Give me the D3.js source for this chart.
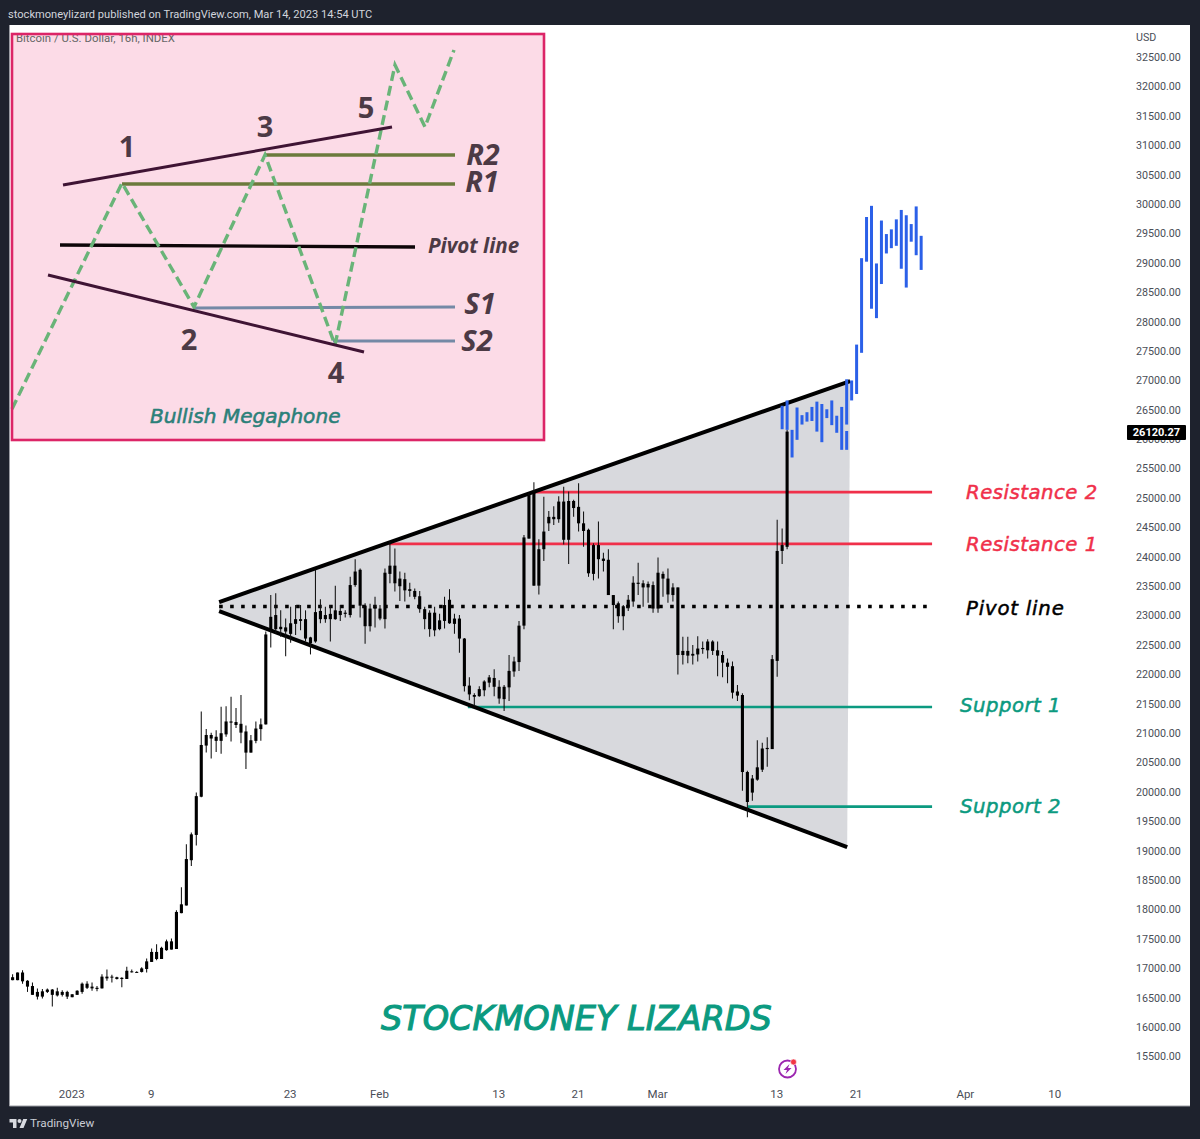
<!DOCTYPE html>
<html><head><meta charset="utf-8">
<script src="https://cdn.jsdelivr.net/npm/d3@7"></script>
<style>html,body{margin:0;padding:0;background:#1e222d}svg{display:block}</style>
</head><body><svg id="c" width="1200" height="1139"></svg>
<script>
// 16h BTCUSD candles, one entry per bar
const high=[16890,16920,16960,16790,16750,16650,16640,16650,16640,16660,16620,16610,16550,16620,16750,16770,16750,16690,16890,16970,16880,16850,16840,17020,16970,16940,17010,17160,17330,17400,17360,17480,17500,17980,18370,19100,19300,19980,21360,21060,21000,21040,21440,21450,21610,21420,21640,21120,20960,21190,21240,22720,23340,23370,23080,22940,23140,23170,23170,23080,22630,23770,23270,23140,23170,23500,23170,23080,23650,23950,23790,23200,23190,23310,23170,23790,24250,24130,23740,23720,23550,23450,23410,23140,23080,23140,23020,23310,23440,23020,23000,22610,21940,21670,21790,21890,21980,22080,21890,21810,22320,22290,22900,24360,25070,25260,24290,25010,24770,24850,25020,25180,25100,24960,25240,24760,24470,24220,24590,24060,24120,23340,23230,23170,23340,23660,23890,23590,23570,23570,23980,23740,23790,23540,23470,22630,22630,22490,22640,22550,22590,22570,22550,22390,22260,22210,21810,21670,20350,20280,20870,20830,20920,22320,24620,24470,26150];
const bodyTop=[16840,16920,16920,16780,16690,16590,16600,16630,16630,16600,16590,16590,16550,16610,16730,16730,16680,16660,16850,16850,16850,16840,16830,16950,16940,16930,16990,17110,17270,17270,17340,17450,17450,17950,18080,18850,19270,19920,20790,20960,20960,20930,20990,21190,21190,21180,21150,21020,20870,21070,21140,22670,22970,23000,22800,22790,22860,22930,22930,22930,22620,23050,23070,23000,23020,23080,23070,23040,23510,23740,23770,23160,23110,23140,23110,23720,23840,23840,23620,23610,23440,23410,23320,23100,23040,23040,22910,23170,23260,22940,22940,22600,21800,21640,21740,21870,21940,21930,21780,21780,22050,22210,22820,24320,25040,25100,24120,24420,24670,24670,24930,24930,24940,24940,24840,24560,24450,24190,24190,23960,23940,23340,23200,23150,23260,23550,23550,23540,23530,23510,23720,23700,23620,23470,23470,22390,22390,22340,22430,22440,22550,22550,22400,22320,22190,22130,21700,21640,20330,20220,20410,20730,20740,22250,24090,24190,26120];
const bodyBottom=[16790,16790,16770,16680,16540,16510,16510,16590,16540,16530,16540,16510,16500,16540,16590,16660,16650,16640,16650,16820,16840,16810,16810,16810,16930,16920,16930,16980,17100,17150,17150,17300,17310,17320,17930,18060,18830,19260,19910,20780,20900,20860,20860,20970,21170,21130,21000,20660,20660,20860,21060,21140,22740,22760,22760,22720,22680,22850,22900,22600,22520,22550,22930,22930,22930,22930,23000,23020,23000,23510,23160,22810,22810,23110,22940,22930,23700,23540,23490,23420,23410,23310,23100,22930,22760,22740,22760,22900,22860,22850,22600,21790,21650,21610,21620,21720,21850,21780,21580,21570,21770,22040,22200,22820,24300,23500,23500,24120,24560,24630,24630,24280,24280,24820,24560,24430,23710,23700,23950,23920,23340,23170,22980,22980,23140,23230,23530,23470,23470,23110,23110,23620,23350,23340,22320,22320,22310,22310,22330,22420,22400,22390,22310,22190,22120,21680,21630,20330,19820,19980,20200,20370,20720,20720,22220,24090,24160];
const low=[16790,16790,16730,16590,16540,16460,16480,16570,16340,16510,16510,16470,16500,16540,16560,16640,16610,16600,16650,16780,16750,16800,16670,16810,16920,16920,16920,16920,17100,17130,17150,17290,17310,17320,17930,18060,18730,19080,19900,20660,20560,20670,20640,20930,20850,21080,20820,20380,20660,20820,20860,21140,22450,22690,22630,22300,22530,22660,22740,22550,22330,22530,22860,22870,22550,22920,22900,22960,22960,23480,22960,22510,22720,22790,22910,22770,23540,23400,23240,23230,23310,23270,23040,22760,22630,22640,22740,22770,22850,22680,22360,21700,21550,21450,21610,21620,21770,21620,21490,21370,21540,21950,22050,22760,24300,23500,23350,23920,24430,24530,24570,24200,23870,24670,24420,24160,23650,23590,23620,23740,23340,22760,22870,22740,23070,23140,23340,23140,23210,23040,23040,23310,23210,23230,21990,22160,22180,22160,22210,22340,22260,22320,21960,21940,21840,21580,21540,20010,19560,19840,20180,20330,20420,20720,21950,23870,24120];
// projected path, blue bars
const projIndex=[155,156,157,158,159,160,161,162,163,164,165,166,167,168,168,169,170,171,172,173,174,175,176,177,178,179,180,181,182,183];
const projHigh=[26560,26650,26150,26530,26400,26450,26540,26630,26590,26500,26650,26390,26540,27010,26130,26990,27600,29070,29770,29960,28980,29710,29480,29560,29730,29890,29800,29650,29950,29450];
const projLow=[26160,26150,25680,25980,26240,26290,26300,26120,25940,26350,26230,26100,25810,26240,25810,26650,26760,27460,29010,28210,28050,28630,29150,29240,29280,28890,28570,29350,29120,28870];
// levels
const levelNames=["Resistance 2","Resistance 1","Pivot line","Support 1","Support 2"];
const levelPrice=[25090,24210,23145,21435,19742];
const levelStart=[104.8,75.8,41.6,91.7,148.1];
const levelEnd=185.2;
const levelColor=["#f0304a","#f0304a","#000","#0b9a80","#0b9a80"];
const levelLabelX=[966,966,966,960,960];
const megaphoneIndex=[41.6,168.7,168.1,41.6];
const megaphonePrice=[23221,26980,19053,23068];
const priceTicks=d3.range(15500,33000,500);
const lastPrice=26120.27;
const timeTickIndex=[12,28,56,74,98,114,130,154,170,192,210];
const timeTickLabels=["2023","9","23","Feb","13","21","Mar","13","21","Apr","10"];
// inset sketch, in box units
const insetWave=[[0,375],[110,149],[182,273],[253,121],[323,311],[383,31],[413,93],[442,16]];
const insetUpper=[[51,151],[380,93]];
const insetLower=[[36,241],[352,318]];
const insetPivot=[[48,211],[403,213]];
const insetR=[[[253,121],[443,121]],[[110,150],[443,150]]];
const insetS=[[[183,274],[443,273]],[[321,307],[443,307]]];
const insetNums=[["1",115,113],["3",253,93],["5",354,74],["2",177,306],["4",324,339]];
const insetTags=[["R2",471,121,26],["R1",470,148,26],["S1",468,270,26],["S2",465,307,26]];

const svg=d3.select("#c");
const FONT="Roboto, sans-serif", OBL="'DejaVu Sans', sans-serif";
const x=d3.scaleLinear().domain([0,210]).range([12.6,1055.2]);
const y=d3.scaleLinear().domain([15500,32500]).range([1056,56.5]);
const bodyW=3.1;

svg.append("rect").attr("width",1200).attr("height",1139).attr("fill","#1e222d");
svg.append("rect").attr("x",9.5).attr("y",25).attr("width",1180.5).attr("height",1081).attr("fill","#fff");
svg.append("path").attr("d","M9.5 25V1106H1190").attr("fill","none").attr("stroke","#9a9ca3").attr("stroke-width",1);
svg.append("text").attr("x",8).attr("y",18).attr("font-family",FONT).attr("font-size",11.1).attr("fill","#d1d4dc")
  .text("stockmoneylizard published on TradingView.com, Mar 14, 2023 14:54 UTC");

// megaphone area
svg.append("polygon").attr("fill","#d8d9dd")
  .attr("points",megaphoneIndex.map((d,i)=>x(d)+","+y(megaphonePrice[i])).join(" "));

// level lines
const lv=svg.append("g");
levelNames.forEach((n,i)=>{
  const dotted=n==="Pivot line";
  lv.append("line").attr("x1",x(levelStart[i])).attr("x2",x(levelEnd)).attr("y1",y(levelPrice[i])).attr("y2",y(levelPrice[i]))
    .attr("stroke",levelColor[i]).attr("stroke-width",dotted?3.6:2.6).attr("stroke-dasharray",dotted?"3.6 7.4":null);
  svg.append("text").attr("x",levelLabelX[i]).attr("y",y(levelPrice[i])+(i==3?-2:i==2?1:i==4?-1:0)).attr("dy","0.36em")
    .attr("font-family",OBL).attr("font-style","italic").attr("font-size",19.7).attr("letter-spacing",i==2?0.8:0.5).attr("fill",levelColor[i]).attr("stroke",levelColor[i]).attr("stroke-width",0.5).text(n);
});

// trend lines
[[0,1],[3,2]].forEach(([a,b])=>{
  svg.append("line").attr("x1",x(megaphoneIndex[a])).attr("y1",y(megaphonePrice[a]))
    .attr("x2",x(megaphoneIndex[b])).attr("y2",y(megaphonePrice[b]))
    .attr("stroke","#000").attr("stroke-width",4);
});

// candles
const g=svg.append("g");
g.selectAll("line.w").data(high).join("line").attr("class","w")
  .attr("x1",(d,i)=>x(i)).attr("x2",(d,i)=>x(i)).attr("y1",d=>y(d)).attr("y2",(d,i)=>y(low[i]))
  .attr("stroke","#111").attr("stroke-width",1.05);
g.selectAll("rect").data(bodyTop).join("rect")
  .attr("x",(d,i)=>x(i)-bodyW/2).attr("width",bodyW)
  .attr("y",d=>y(d)).attr("height",(d,i)=>Math.max(1,y(bodyBottom[i])-y(d))).attr("fill","#000");

// projection
svg.append("g").selectAll("line").data(projIndex).join("line")
  .attr("x1",d=>x(d)).attr("x2",d=>x(d)).attr("y1",(d,i)=>y(projHigh[i])).attr("y2",(d,i)=>y(projLow[i]))
  .attr("stroke","#2b60e8").attr("stroke-width",3);

// inset box
const ix=d3.scaleLinear().domain([0,532]).range([12,544]);
const iy=d3.scaleLinear().domain([0,406]).range([34,440]);
const il=d3.line().x(d=>ix(d[0])).y(d=>iy(d[1]));
svg.append("rect").attr("x",12).attr("y",34).attr("width",532).attr("height",406).attr("fill","#fcdbe7");
svg.append("text").attr("x",16).attr("y",42).attr("font-family",FONT).attr("font-size",11.4).attr("fill","#666").text("Bitcoin / U.S. Dollar, 16h, INDEX");
const ins=svg.append("g").attr("fill","none");
insetR.forEach(d=>ins.append("path").attr("d",il(d)).attr("stroke","#6b7a3c").attr("stroke-width",3.4));
insetS.forEach(d=>ins.append("path").attr("d",il(d)).attr("stroke","#7489a6").attr("stroke-width",3));
ins.append("path").attr("d",il(insetPivot)).attr("stroke","#0d0508").attr("stroke-width",3.4);
ins.append("path").attr("d",il(insetWave)).attr("stroke","#69b478").attr("stroke-width",3.4).attr("stroke-dasharray","10 5").attr("stroke-linejoin","miter");
[insetUpper,insetLower].forEach(d=>ins.append("path").attr("d",il(d)).attr("stroke","#3f1434").attr("stroke-width",3));
insetNums.forEach(([t,a,b])=>svg.append("text").attr("x",ix(a)).attr("y",iy(b)).attr("dy","0.36em").attr("text-anchor","middle")
  .attr("font-family","'Open Sans',sans-serif").attr("font-weight",700).attr("font-size",29).attr("fill","#4c3a45").text(t));
insetTags.forEach(([t,a,b,s])=>svg.append("text").attr("x",ix(a)).attr("y",iy(b)).attr("dy","0.36em").attr("text-anchor","middle")
  .attr("font-family","'Open Sans',sans-serif").attr("font-weight",700).attr("font-style","italic").attr("font-size",s+3).attr("fill","#4c3a45").text(t));
svg.append("text").attr("x",428).attr("y",246).attr("dy","0.36em").attr("font-family","'Open Sans',sans-serif").attr("font-weight",700).attr("font-style","italic").attr("font-size",20.6).attr("fill","#4c3a45").text("Pivot line");
svg.append("text").attr("x",150).attr("y",416).attr("dy","0.36em").attr("font-family",OBL).attr("font-style","italic").attr("font-size",20.1).attr("fill","#2b8079").attr("stroke","#2b8079").attr("stroke-width",0.55).text("Bullish Megaphone");
svg.append("rect").attr("x",12).attr("y",34).attr("width",532).attr("height",406).attr("fill","none").attr("stroke","#dc2567").attr("stroke-width",2.6);

// watermark
svg.append("text").attr("x",381).attr("y",1018).attr("dy","0.36em").attr("font-family",OBL).attr("font-style","italic").attr("font-size",33.5).attr("fill","#0b9a80").attr("stroke","#0b9a80").attr("stroke-width",1.1).text("STOCKMONEY LIZARDS");

// axes
const ya=svg.append("g").attr("transform","translate(1136,0.5)")
  .call(d3.axisRight(y).tickValues(priceTicks).tickFormat(d3.format(".2f")).tickSize(0).tickPadding(0));
ya.select(".domain").remove();
ya.selectAll("text").attr("font-family",FONT).attr("font-size",10.7).attr("fill","#4a4e57");
svg.append("text").attr("x",1136).attr("y",41).attr("font-family",FONT).attr("font-size",10.7).attr("fill","#4a4e57").text("USD");
svg.append("rect").attr("x",1127).attr("y",425).attr("width",59).attr("height",15).attr("rx",1).attr("fill","#000");
svg.append("text").attr("x",1156.5).attr("y",y(lastPrice)+0.5).attr("dy","0.36em").attr("text-anchor","middle").attr("font-family",FONT).attr("font-weight",700).attr("font-size",11).attr("fill","#fff").text(d3.format(".2f")(lastPrice));

const xa=svg.append("g").attr("transform","translate(-1,1090)")
  .call(d3.axisBottom(x).tickValues(timeTickIndex).tickFormat((d,i)=>timeTickLabels[i]).tickSize(0).tickPadding(0));
xa.select(".domain").remove();
xa.selectAll("text").attr("font-family",FONT).attr("font-size",11.5).attr("fill","#4a4e57");

// lightning badge
const bd=svg.append("g").attr("transform","translate(787.5,1069)");
bd.append("circle").attr("r",8.5).attr("fill","none").attr("stroke","#9c27b0").attr("stroke-width",1.8);
bd.append("path").attr("d","M2 -5L-4 1H-0.5L-2 5L4 -1H0.5Z").attr("fill","#9c27b0");
bd.append("circle").attr("cx",6).attr("cy",-7).attr("r",3).attr("fill","#f23645").attr("stroke","#fff").attr("stroke-width",0.6);

// footer brand
const tv=svg.append("g").attr("transform","translate(9.5,1117) scale(0.5)").attr("fill","#d8dae0");
tv.append("path").attr("d","M14 22H7V11H0V4h14v18zM28 22h-8l7.5-18h8L28 22z");
tv.append("circle").attr("cx",20).attr("cy",8).attr("r",4);
svg.append("text").attr("x",30).attr("y",1127).attr("font-family",FONT).attr("font-size",11.7).attr("fill","#c9ccd4").text("TradingView");
</script></body></html>
